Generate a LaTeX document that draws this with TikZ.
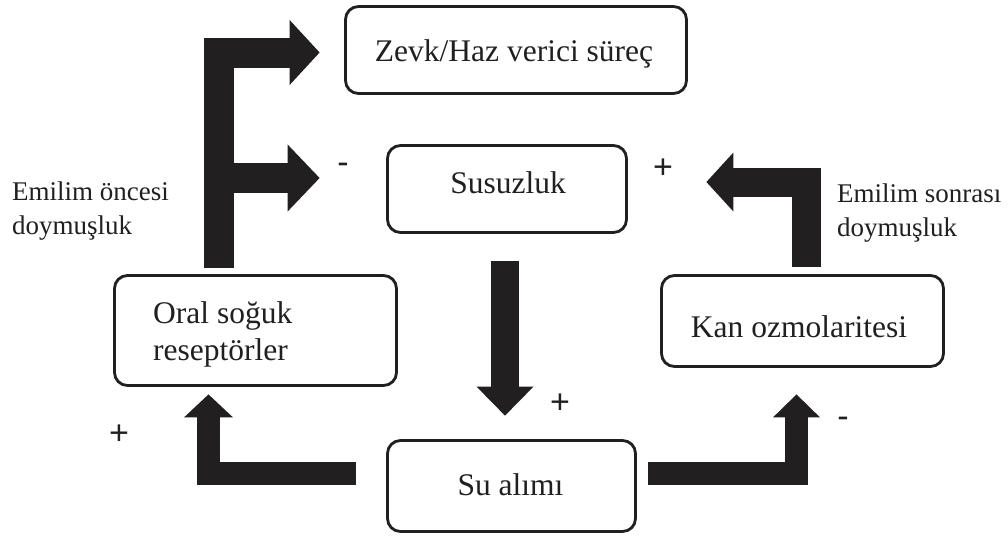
\documentclass[tikz,border=0pt]{standalone}
\usepackage{fontspec}
\setmainfont{Liberation Serif}
\newfontfamily\signfont{Liberation Sans}
\usetikzlibrary{calc}
\definecolor{ink}{HTML}{221F20}

% filled triangular heads for the block arrows: #1 tip, #2 length, #3 half width
\newcommand\headright[3]{\fill[ink] (#1) -- ++(-#2,-#3) -- ++(0,2*#3) -- cycle;}
\newcommand\headleft[3]{\fill[ink] (#1) -- ++(#2,-#3) -- ++(0,2*#3) -- cycle;}
\newcommand\headup[3]{\fill[ink] (#1) -- ++(-#3,#2) -- ++(2*#3,0) -- cycle;}
\newcommand\headdown[3]{\fill[ink] (#1) -- ++(-#3,-#2) -- ++(2*#3,0) -- cycle;}

\begin{document}
\begin{tikzpicture}[x=1pt,y=-1pt,
  box/.style={draw=ink, line width=2.8pt, rounded corners=13pt, fill=white, inner sep=0pt},
  boxtext/.style={font=\fontsize{31.5}{37}\selectfont, text=ink, inner sep=0pt},
  lbl/.style={font=\fontsize{27}{34}\selectfont, align=left, text=ink, inner sep=0pt},
  sign/.style={font=\signfont\fontsize{34}{34}\selectfont, text=ink, inner sep=0pt},
  shaft/.style={draw=ink, line cap=butt, line join=miter},
]
\useasboundingbox (0,0) rectangle (1008,539);

% boxes
\node[box, minimum width=341pt, minimum height=87pt] (pleasure) at (516,50) {};
\node[box, minimum width=239pt, minimum height=87pt] (thirst) at (507,189) {};
\node[box, minimum width=282pt, minimum height=110pt] (oral) at (255.5,330.5) {};
\node[box, minimum width=282pt, minimum height=91pt] (osmo) at (802.5,321) {};
\node[box, minimum width=248pt, minimum height=91pt] (intake) at (511.5,486) {};

% box texts
\node[boxtext, anchor=base] (pleasure-t) at (514,61) {Zevk/Haz verici süreç};
\node[boxtext, anchor=base] (thirst-t) at (508,193) {Susuzluk};
\node[boxtext, anchor=base] (intake-t) at (510.5,495) {Su alımı};
\node[boxtext, anchor=base] (osmo-t) at (799,337) {Kan ozmolaritesi};
\node[boxtext, anchor=west, align=left] (oral-t) at (153,334.5) {Oral soğuk\\reseptörler};

% side labels
\node[lbl, anchor=west] (pre) at (12,211) {Emilim öncesi\\doymuşluk};
\node[lbl, anchor=west] (post) at (837,213) {Emilim sonrası\\doymuşluk};

% F-shaped arrow: oral receptors -> pleasure and -> thirst
\coordinate (fstart) at ($(oral.north)+(-36.5,-6.5)$);
\coordinate (ftip) at ($(pleasure.west)+(-24.5,2.5)$);
\coordinate (btip) at ($(thirst.west)+(-66.5,-11)$);
\draw[shaft, line width=30pt] (fstart) |- ($(ftip)+(-29,0)$);
\headright{ftip}{30}{32.5}
\draw[shaft, line width=30pt] (fstart |- btip) -- ($(btip)+(-31,0)$);
\headright{btip}{32}{33.5}

% osmolarity -> thirst
\coordinate (rstart) at ($(osmo.north)+(3.5,-7.5)$);
\coordinate (rtip) at ($(thirst.east)+(78.5,-7)$);
\draw[shaft, line width=29pt] (rstart) |- ($(rtip)+(26,0)$);
\headleft{rtip}{27}{29.5}

% thirst -> water intake
\coordinate (dstart) at ($(thirst.south)+(-2,27.5)$);
\coordinate (dtip) at ($(dstart |- intake.north)+(0,-23.5)$);
\draw[shaft, line width=28pt] (dstart) -- ($(dtip)+(0,-28)$);
\headdown{dtip}{29}{28.5}

% water intake -> oral receptors
\coordinate (lstart) at ($(intake.west)+(-30.5,-12.5)$);
\coordinate (ltip) at ($(oral.south)+(-47,7.5)$);
\draw[shaft, line width=23pt] (lstart) -| ($(ltip)+(0,22)$);
\headup{ltip}{23}{24.5}

% water intake -> osmolarity
\coordinate (qstart) at ($(intake.east)+(11.5,-12.5)$);
\coordinate (qtip) at ($(osmo.south)+(-6,26.5)$);
\draw[shaft, line width=23pt] (qstart) -| ($(qtip)+(0,22)$);
\headup{qtip}{23}{23.5}

% signs
\node[sign] (s-pre) at (343,168) {-};
\node[sign] (s-post) at (663,169) {+};
\node[sign] (s-down) at (560,404) {+};
\node[sign] (s-left) at (119,435) {+};
\node[sign] (s-right) at (843,422) {-};
\end{tikzpicture}
\end{document}
